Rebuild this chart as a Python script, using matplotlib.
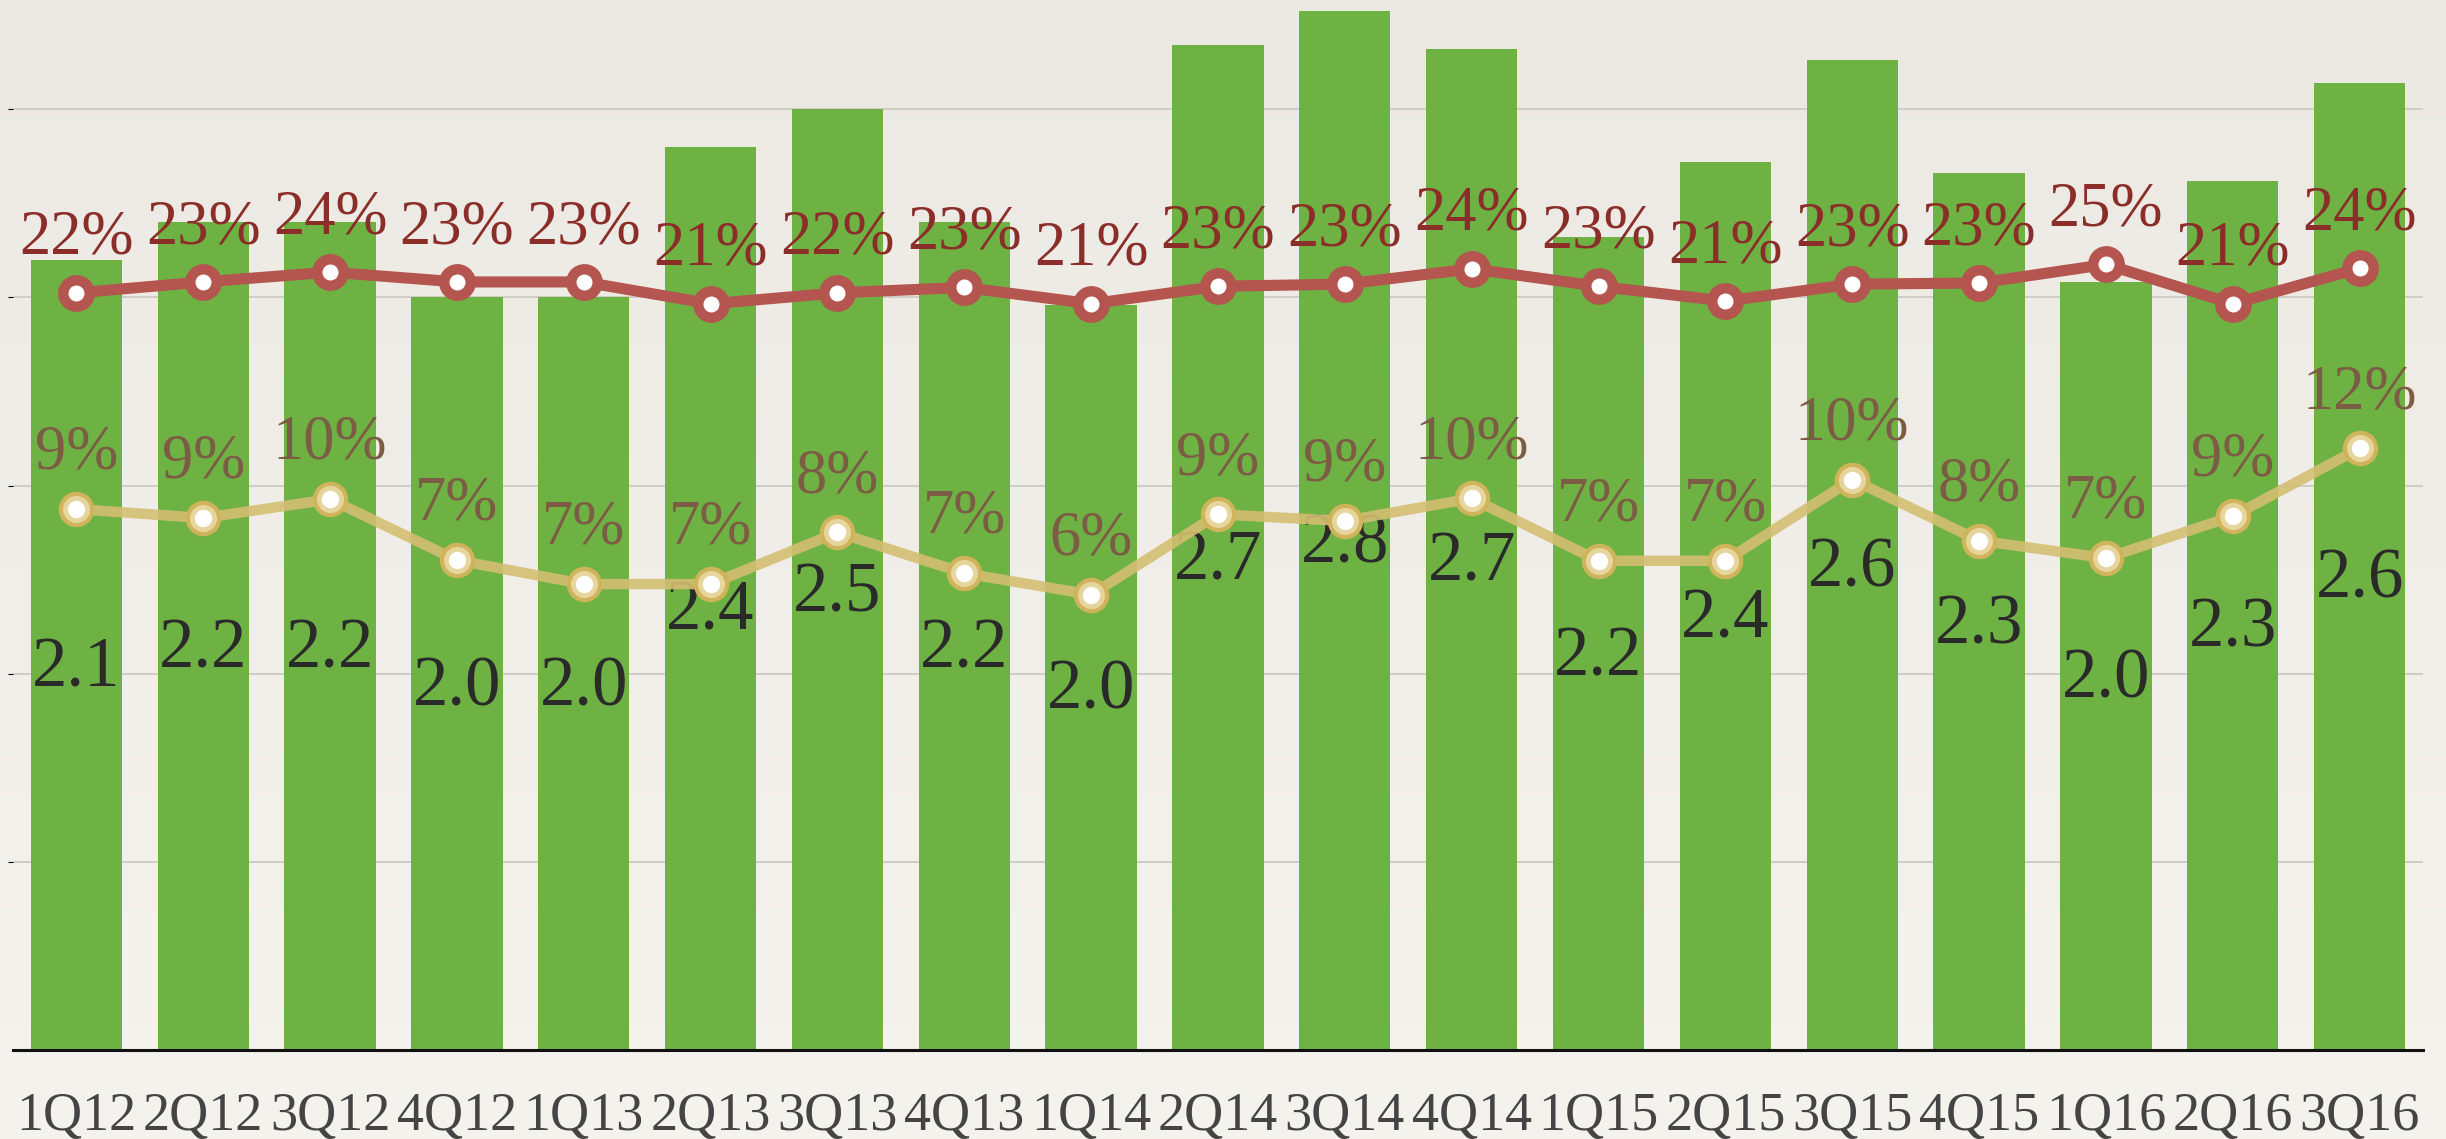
import numpy as np
import matplotlib.pyplot as plt

# quarter labels and values
quarters = ['1Q12', '2Q12', '3Q12', '4Q12', '1Q13', '2Q13', '3Q13', '4Q13', '1Q14', '2Q14',
            '3Q14', '4Q14', '1Q15', '2Q15', '3Q15', '4Q15', '1Q16', '2Q16', '3Q16']
bar_values = [2.10, 2.20, 2.20, 2.00, 2.00, 2.40, 2.50, 2.20, 1.98, 2.67,
              2.76, 2.66, 2.16, 2.36, 2.63, 2.33, 2.04, 2.31, 2.57]
red_pct = [22.2, 23.2, 24.1, 23.2, 23.2, 21.2, 22.2, 22.7, 21.2, 22.8,
           23.0, 24.4, 22.8, 21.45, 23.0, 23.1, 24.8, 21.2, 24.45]
gold_pct = [9.34, 9.0, 9.71, 7.41, 6.51, 6.51, 8.46, 6.92, 6.11, 9.14,
            8.89, 9.74, 7.39, 7.39, 10.45, 8.15, 7.49, 9.07, 11.63]

serif = 'Liberation Serif'
green = '#6eb243'
red = '#b4554f'
gold = '#d4bf72'

fig = plt.figure(figsize=(24.46, 11.39), dpi=100)

# paper-like background
bg = fig.add_axes([0, 0, 1, 1], zorder=-10)
grad = np.linspace(0, 1, 256).reshape(-1, 1)
top_c = np.array([236, 233, 227]) / 255
bot_c = np.array([245, 243, 238]) / 255
img = top_c + (bot_c - top_c) * grad[..., None]
bg.imshow(np.repeat(img, 2, axis=1), aspect='auto', extent=[0, 1, 0, 1])
bg.axis('off')

ax = fig.add_axes([0.0053, 0.078, 0.9853, 0.922])
ax.set_facecolor('none')
x = np.arange(len(quarters))

ax.bar(x, bar_values, width=0.72, color=green, zorder=2)
ax.set_xlim(-0.5, len(quarters) - 0.5)
ax.set_ylim(0, 2.79)
ax.set_yticks([0.5, 1.0, 1.5, 2.0, 2.5])
ax.yaxis.grid(True, color='#cfcdc8', lw=1.4)
ax.set_axisbelow(True)
ax.tick_params(axis='y', left=False, labelleft=False)
ax.tick_params(axis='x', length=0, pad=30)
ax.set_xticks(x)
ax.set_xticklabels(quarters, fontsize=39, family=serif, color='#444444')
for s in ['top', 'left', 'right']:
    ax.spines[s].set_visible(False)
ax.spines['bottom'].set_color('#111111')
ax.spines['bottom'].set_linewidth(2.2)

for xi, v in zip(x, bar_values):
    ax.annotate('%.1f' % v, (xi, v / 2), xytext=(0, -10), textcoords='offset points',
                ha='center', va='center', fontsize=51, family=serif, color='#2a2a2a', zorder=3)

# red percentage line
ax_r = ax.twinx()
ax_r.set_ylim(-47.1, 49.0)
ax_r.axis('off')
ax_r.plot(x, red_pct, color=red, lw=8, zorder=3)
ax_r.plot(x, red_pct, 'o', ms=25.5, color=red, zorder=4)
ax_r.plot(x, red_pct, 'o', ms=10.5, color='white', zorder=5)
for xi, v in zip(x, red_pct):
    ax_r.annotate('%d%%' % round(v), (xi, v), xytext=(0, 28), textcoords='offset points',
                  ha='center', va='baseline', fontsize=45, family=serif, color='#8b2e2a')

# gold percentage line
ax_g = ax.twinx()
ax_g.set_ylim(-11.06, 28.53)
ax_g.axis('off')
ax_g.plot(x, gold_pct, color=gold, lw=7.5, alpha=0.9, zorder=3)
ax_g.plot(x, gold_pct, 'o', ms=24.5, color='#d0b45c', zorder=4)
ax_g.plot(x, gold_pct, 'o', ms=18.5, color='#e6d59c', zorder=5)
ax_g.plot(x, gold_pct, 'o', ms=11.5, color='white', zorder=6)
for xi, v in zip(x, gold_pct):
    ax_g.annotate('%d%%' % round(v), (xi, v), xytext=(0, 29), textcoords='offset points',
                  ha='center', va='baseline', fontsize=45, family=serif, color='#7d5c45')

fig.savefig('out.png', dpi=100, facecolor=fig.get_facecolor())
